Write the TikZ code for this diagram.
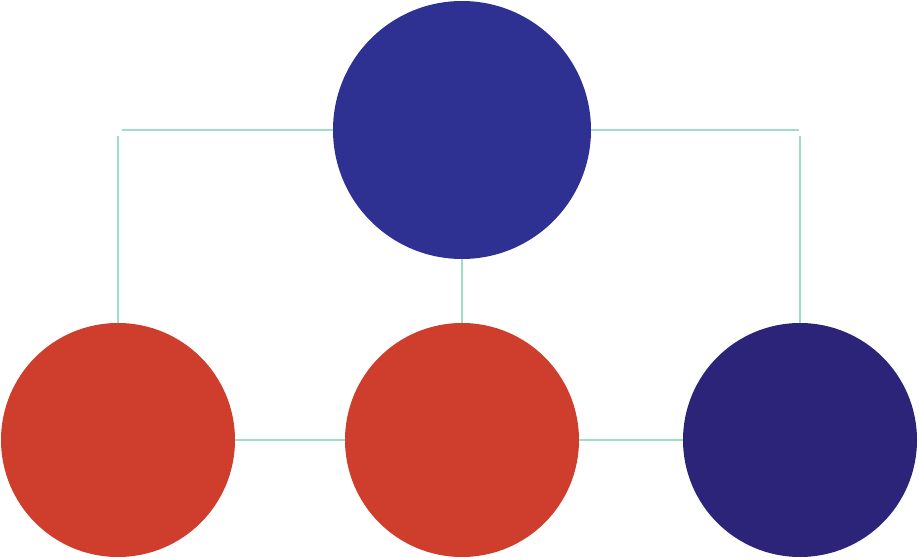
\documentclass[tikz,border=0pt]{standalone}
\begin{document}
\begin{tikzpicture}[x=1pt,y=-1pt,
  link/.style={draw=linkc,line width=2pt},
  bubble/.style={circle,inner sep=0pt,draw=none}]
\definecolor{linkc}{HTML}{9FDFC9}
\definecolor{topc}{HTML}{2E3192}
\definecolor{redc}{HTML}{CF3D2C}
\definecolor{navyc}{HTML}{2C2478}
\useasboundingbox (0,0) rectangle (919,559);
\node[bubble,fill=topc,minimum size=258pt] (top) at (462,130) {};
\node[bubble,fill=redc,minimum size=234pt] (left) at (118,440) {};
\node[bubble,fill=redc,minimum size=234pt] (mid) at (462,440) {};
\node[bubble,fill=navyc,minimum size=234pt] (right) at (800,440) {};
\coordinate (lh) at (122,130);
\coordinate (lv) at (118,136);
\coordinate (rh) at (799,130);
\coordinate (rv) at (800,136);
\draw[link] (top.west) -- (lh);
\draw[link] (lv) -- (left.north);
\draw[link] (top.east) -- (rh);
\draw[link] (rv) -- (right.north);
\draw[link] (top.south) -- (mid.north);
\draw[link] (left.east) -- (mid.west);
\draw[link] (mid.east) -- (right.west);
\end{tikzpicture}
\end{document}
